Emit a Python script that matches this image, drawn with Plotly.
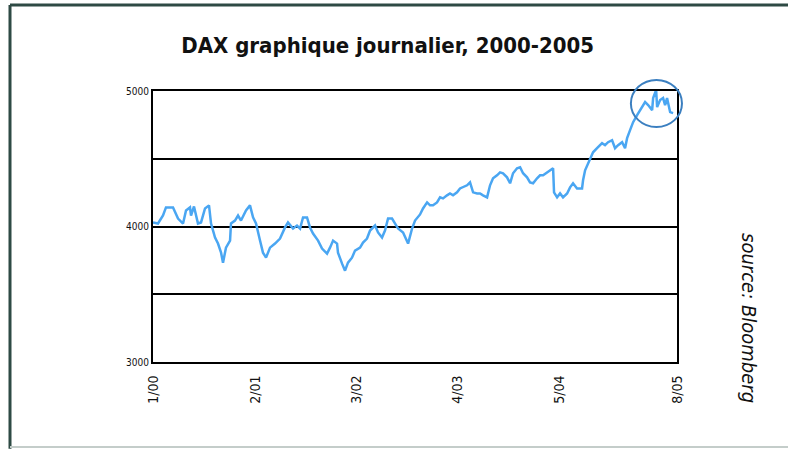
import pandas as pd
import plotly.graph_objects as go

# months since Jan 2000 and DAX level
months = [0.0, 0.64, 1.28, 1.66, 2.56, 3.20, 3.84, 4.22, 4.73, 4.86, 5.24, 5.75, 6.14, 6.65, 7.16,
          7.42, 7.93, 8.31, 8.70, 8.95, 9.33, 9.85, 9.97, 10.48, 10.87, 11.25, 11.89, 12.40, 12.79,
          13.17, 13.68, 14.06, 14.45, 14.96, 15.60, 16.24, 16.88, 17.26, 17.90, 18.41, 18.80, 19.18,
          19.69, 20.07, 20.46, 21.10, 21.61, 22.25, 22.63, 23.02, 23.53, 23.65, 24.17, 24.55, 24.93,
          25.44, 25.83, 26.47, 26.85, 27.36, 27.75, 28.39, 28.77, 29.28, 29.66, 30.05, 30.56, 30.94,
          31.33, 31.97, 32.48, 32.61, 33.12, 33.50, 34.14, 34.52, 35.04, 35.42, 35.80, 36.31, 36.70,
          37.08, 37.59, 37.97, 38.36, 38.87, 39.25, 39.64, 40.15, 40.53, 40.92, 41.43, 41.81, 42.19,
          42.71, 43.09, 43.47, 43.98, 44.37, 44.75, 45.26, 45.65, 46.03, 46.54, 46.93, 47.31, 47.82,
          48.20, 48.59, 49.10, 49.48, 49.87, 50.38, 50.76, 51.15, 51.27, 51.66, 52.04, 52.42, 52.94,
          53.32, 53.70, 54.21, 54.85, 54.98, 55.24, 55.62, 55.87, 56.26, 56.77, 57.41, 57.79, 58.18,
          58.69, 59.07, 59.46, 59.97, 60.35, 60.61, 60.99, 61.38, 61.89, 62.53, 62.91, 63.30, 63.81,
          63.94, 64.32, 64.45, 64.83, 65.21, 65.47, 65.72, 66.11, 66.49]
dax = [4030, 4022, 4081, 4141, 4141, 4059, 4022, 4119, 4141, 4081, 4148, 4022, 4030, 4133, 4156,
       4022, 3919, 3874, 3807, 3733, 3844, 3896, 4022, 4044, 4081, 4044, 4119, 4156, 4067,
       4022, 3896, 3807, 3770, 3844, 3874, 3911, 3993, 4030, 3985, 4007, 3985, 4067,
       4067, 3993, 3948, 3896, 3837, 3800, 3844, 3896, 3874, 3807, 3726, 3674, 3733,
       3770, 3822, 3844, 3881, 3911, 3970, 4007, 3956, 3919, 3970, 4059, 4059, 4022,
       3985, 3956, 3896, 3874, 3985, 4044, 4089, 4133, 4178, 4156, 4156, 4178, 4215,
       4207, 4230, 4244, 4230, 4252, 4281, 4289, 4304, 4326, 4252, 4244, 4244, 4230,
       4215, 4304, 4356, 4378, 4400, 4393, 4363, 4319, 4393, 4430, 4437, 4393, 4363,
       4326, 4319, 4356, 4378, 4378, 4400, 4415, 4430, 4252, 4215, 4244, 4215, 4244,
       4289, 4319, 4281, 4281, 4341, 4415, 4467, 4489, 4548, 4578, 4615, 4600, 4622,
       4637, 4578, 4600, 4622, 4578, 4652, 4711, 4770, 4822, 4881, 4919, 4896, 4859,
       4948, 5007, 4881, 4933, 4948, 4896, 4948, 4844, 4837]

tick_dates = ["2000-01-01", "2001-02-01", "2002-03-01", "2003-04-01", "2004-05-01", "2005-08-01"]
tick_labels = ["1/00", "2/01", "3/02", "4/03", "5/04", "8/05"]
y_ticks = [3000, 3500, 4000, 4500, 5000]
y_labels = ["3000", "", "4000", "", "5000"]

base = pd.Timestamp("2000-01-01")
dates = [base + pd.to_timedelta(m * 30.4375, unit="D") for m in months]

fig = go.Figure()
fig.add_trace(go.Scatter(x=dates, y=dax, mode="lines",
                         line=dict(color="#4aa6f2", width=2.5), showlegend=False))

fig.update_layout(
    width=788, height=449,
    margin=dict(l=153, r=111, t=91, b=87),
    paper_bgcolor="white", plot_bgcolor="white",
    title=dict(text="DAX graphique journalier, 2000-2005",
               font=dict(family="DejaVu Sans Condensed, Liberation Sans Narrow, sans-serif",
                         size=22, color="#111111", weight="bold"),
               x=0.492, xref="container", xanchor="center",
               y=1 - 45 / 449, yref="container", yanchor="middle"),
)
fig.update_xaxes(type="date", range=["2000-01-01", "2005-08-01"],
                 tickvals=tick_dates, ticktext=tick_labels, tickangle=-90,
                 tickfont=dict(family="DejaVu Sans Condensed, sans-serif", size=14, color="#111111"),
                 showgrid=False, showline=True, linecolor="black", linewidth=2, mirror=True,
                 ticks="outside", ticklen=6, tickcolor="white", zeroline=False)
fig.update_yaxes(range=[3000, 5000], tickvals=y_ticks, ticktext=y_labels,
                 tickfont=dict(family="DejaVu Sans Condensed, sans-serif", size=10, color="#111111"),
                 showgrid=True, gridcolor="black", gridwidth=2,
                 showline=True, linecolor="black", linewidth=2, mirror=True,
                 ticks="", zeroline=False)

# outer frame
fig.add_shape(type="line", xref="paper", yref="paper", x0=-0.2729, x1=1.23, y0=1.3173, y1=1.3173,
              line=dict(color="#2e4a44", width=3))
fig.add_shape(type="line", xref="paper", yref="paper", x0=-0.2729, x1=-0.2729, y0=-0.32, y1=1.3173,
              line=dict(color="#2e4a44", width=3))
fig.add_shape(type="line", xref="paper", yref="paper", x0=-0.2729, x1=1.23, y0=-0.3137, y1=-0.3137,
              line=dict(color="#c4cdca", width=2))

# highlight circle around the peak
fig.add_shape(type="circle", xref="paper", yref="paper", x0=0.912, x1=1.0095, y0=0.867, y1=1.041,
              line=dict(color="#3b7fc0", width=2))

fig.add_annotation(text="<i>source: Bloomberg</i>", xref="paper", yref="paper",
                   x=(749 - 153) / 524, y=(362 - 318) / 271, xanchor="center", yanchor="middle",
                   showarrow=False, textangle=90,
                   font=dict(family="DejaVu Sans Condensed, Liberation Sans Narrow, sans-serif",
                             size=20, color="#111111"))

fig.write_html("out.html", config={"displayModeBar": False},
               post_script="document.body.style.margin='0';")
